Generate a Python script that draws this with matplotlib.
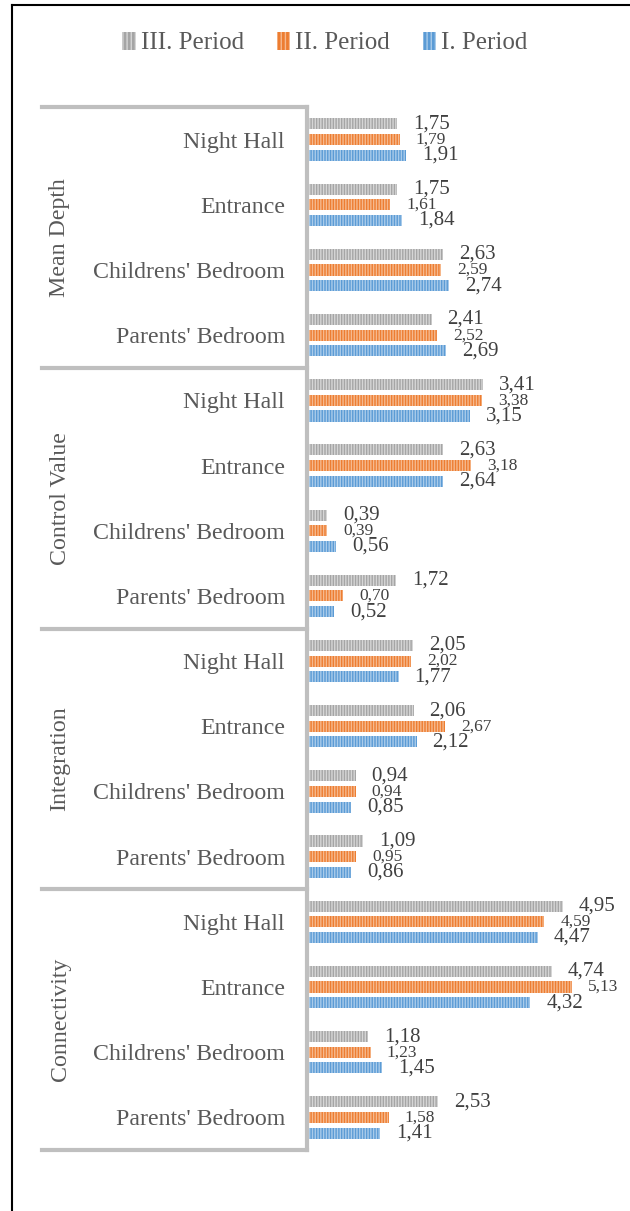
import matplotlib
matplotlib.use("Agg")
import matplotlib.pyplot as plt
import matplotlib.transforms as mtransforms
from matplotlib.patches import Patch
from matplotlib.lines import Line2D
import numpy as np

plt.rcParams['font.family'] = ['Liberation Serif', 'DejaVu Serif']
plt.rcParams['hatch.linewidth'] = 1.0

groups = ["Mean Depth", "Control Value", "Integration", "Connectivity"]
rooms = ["Night Hall", "Entrance", "Childrens' Bedroom", "Parents' Bedroom"]
periods = ["III. Period", "II. Period", "I. Period"]

# values per group, rooms in the order above
period3 = [1.75, 1.75, 2.63, 2.41,
           3.41, 2.63, 0.39, 1.72,
           2.05, 2.06, 0.94, 1.09,
           4.95, 4.74, 1.18, 2.53]
period2 = [1.79, 1.61, 2.59, 2.52,
           3.38, 3.18, 0.39, 0.70,
           2.02, 2.67, 0.94, 0.95,
           4.59, 5.13, 1.23, 1.58]
period1 = [1.91, 1.84, 2.74, 2.69,
           3.15, 2.64, 0.56, 0.52,
           1.77, 2.12, 0.85, 0.86,
           4.47, 4.32, 1.45, 1.41]

colors = ["#A5A5A5", "#ED7D31", "#5B9BD5"]
hatch_colors = ["#D6D6D6", "#F6B98E", "#A9CBEA"]
label_sizes = [15, 12.5, 15]

W, H = 630, 1211
fig = plt.figure(figsize=(W / 100, H / 100), dpi=100)
ax = fig.add_axes([307 / W, (H - 1150) / H, (W - 307) / W, 1043 / H])

n = len(groups) * len(rooms)
ypos = np.arange(n)
offsets = [-0.24, 0.0, 0.24]
bh = 0.17

for vals, col, hc, off, fs in zip([period3, period2, period1], colors,
                                  hatch_colors, offsets, label_sizes):
    ax.barh(ypos + off, vals, height=bh, color=col, edgecolor=hc,
            hatch='||||||', linewidth=0)
    for y, v in zip(ypos + off, vals):
        ax.annotate(f"{v:.2f}".replace('.', ','), xy=(v, y),
                    xytext=(11.5, 0), textcoords='offset points',
                    ha='left', va='center', fontsize=fs, color='#404040')

ax.set_xlim(0, (W - 307) / 51.7)
ax.set_ylim(n - 0.5, -0.5)
ax.set_xticks([])
ax.set_yticks(ypos)
ax.set_yticklabels(rooms * len(groups), fontsize=17.2, color='#595959')
ax.tick_params(axis='y', length=0, pad=16)
for s in ['top', 'right', 'bottom']:
    ax.spines[s].set_visible(False)
ax.spines['left'].set_color('#BFBFBF')
ax.spines['left'].set_linewidth(3)

# group separators and rotated group names
blend = mtransforms.blended_transform_factory(fig.transFigure, ax.transData)
for k in range(len(groups) + 1):
    yb = k * len(rooms) - 0.5
    ax.add_line(Line2D([42 / W, 307 / W], [yb, yb], transform=blend,
                       color='#BFBFBF', lw=3, clip_on=False))
for k, g in enumerate(groups):
    yc = k * len(rooms) + (len(rooms) - 1) / 2
    ax.text(60 / W, yc, g, transform=blend, rotation=90, ha='center',
            va='center', fontsize=17.2, color='#595959')

# legend
handles = [Patch(facecolor=c, edgecolor=h, hatch='||||', linewidth=0)
           for c, h in zip(colors, hatch_colors)]
fig.legend(handles, periods, loc='center', bbox_to_anchor=(0.516, 1 - 43 / H),
           ncol=3, frameon=False, fontsize=18, handlelength=0.55,
           handleheight=0.75, handletextpad=0.2, columnspacing=1.3,
           labelcolor='#595959')

# outer frame on top and left
fig.add_artist(Line2D([12 / W, 1], [1 - 5 / H, 1 - 5 / H],
                      transform=fig.transFigure, color='black', lw=1.5))
fig.add_artist(Line2D([12 / W, 12 / W], [0, 1 - 5 / H],
                      transform=fig.transFigure, color='black', lw=1.5))

fig.savefig("out.png", dpi=100)
